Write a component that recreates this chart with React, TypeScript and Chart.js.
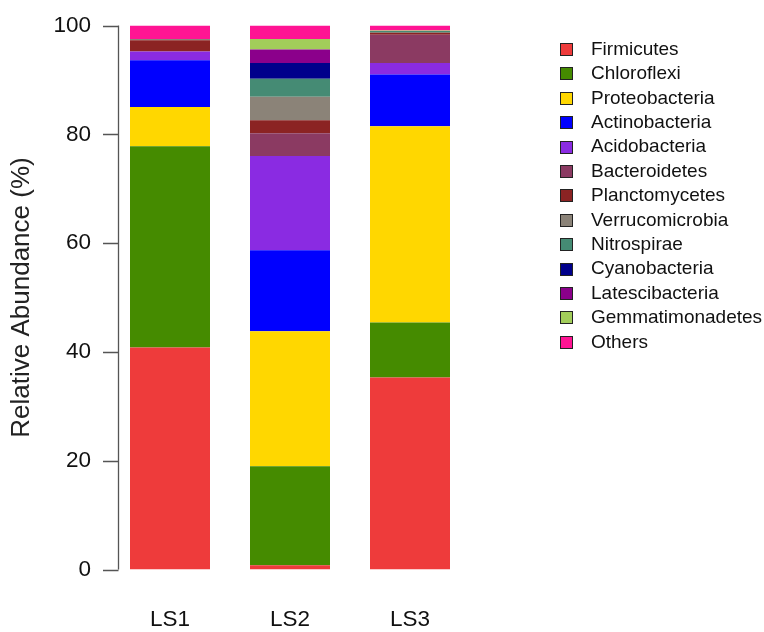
import React, { useEffect, useRef } from "react";
import { Chart, registerables } from "chart.js";

Chart.register(...registerables);

const samples = ["LS1", "LS2", "LS3"];
const yTicks = [0, 20, 40, 60, 80, 100];

const firmicutes = [40.8, 0.8, 35.3];
const chloroflexi = [37.0, 18.2, 10.1];
const proteobacteria = [7.2, 24.8, 36.1];
const actinobacteria = [8.6, 14.9, 9.5];
const acidobacteria = [1.6, 17.3, 2.1];
const bacteroidetes = [0, 4.2, 5.2];
const planctomycetes = [2.1, 2.4, 0.3];
const verrucomicrobia = [0.2, 4.3, 0.2];
const nitrospirae = [0, 3.3, 0.2];
const cyanobacteria = [0, 2.9, 0];
const latescibacteria = [0, 2.5, 0];
const gemmatimonadetes = [0, 1.9, 0.1];
const others = [2.5, 2.5, 0.9];

const phylumNames = [
  "Firmicutes", "Chloroflexi", "Proteobacteria", "Actinobacteria", "Acidobacteria",
  "Bacteroidetes", "Planctomycetes", "Verrucomicrobia", "Nitrospirae", "Cyanobacteria",
  "Latescibacteria", "Gemmatimonadetes", "Others",
];
const phylumValues = [
  firmicutes, chloroflexi, proteobacteria, actinobacteria, acidobacteria,
  bacteroidetes, planctomycetes, verrucomicrobia, nitrospirae, cyanobacteria,
  latescibacteria, gemmatimonadetes, others,
];
const phylumColors = [
  "#EE3B3B", "#458B00", "#FFD700", "#0000FF", "#8A2BE2",
  "#8B3A62", "#8B2323", "#8B8378", "#458B74", "#00008B",
  "#8B008B", "#A2CD5A", "#FF1493",
];

const FONT = "'Liberation Sans', Arial, sans-serif";
const TEXT = "#111";

const rAxisPlugin = {
  id: "rAxis",
  afterDraw(chart: any) {
    const { ctx, chartArea, scales } = chart;
    const y = scales.y;
    const ax = chartArea.left + 8.5;
    ctx.save();
    ctx.strokeStyle = "#555";
    ctx.lineWidth = 1.3;
    ctx.beginPath();
    ctx.moveTo(ax, y.getPixelForValue(0));
    ctx.lineTo(ax, y.getPixelForValue(100));
    for (const t of yTicks) {
      const py = Math.round(y.getPixelForValue(t)) + 0.5;
      ctx.moveTo(ax - 15.5, py);
      ctx.lineTo(ax, py);
    }
    ctx.stroke();
    ctx.restore();
  },
};

const legendPlugin = {
  id: "rLegend",
  afterDraw(chart: any) {
    const { ctx } = chart;
    const boxX = 560;
    const textX = 591;
    const top = 49.5;
    const step = 24.4;
    ctx.save();
    ctx.font = `19px ${FONT}`;
    ctx.textBaseline = "middle";
    ctx.textAlign = "left";
    phylumNames.forEach((name, i) => {
      const cy = top + i * step;
      ctx.fillStyle = phylumColors[i];
      ctx.fillRect(boxX, Math.round(cy - 6.5), 13, 13);
      ctx.strokeStyle = "#222";
      ctx.lineWidth = 1;
      ctx.strokeRect(boxX + 0.5, Math.round(cy - 6.5) + 0.5, 12, 12);
      ctx.fillStyle = TEXT;
      ctx.fillText(name, textX, cy);
    });
    ctx.restore();
  },
};

export default function App() {
  const ref = useRef<HTMLCanvasElement>(null);

  useEffect(() => {
    document.body.style.margin = "0";
    const canvas = ref.current!;
    const chart = new Chart(canvas, {
      type: "bar",
      data: {
        labels: samples,
        datasets: phylumNames.map((name, i) => ({
          label: name,
          data: phylumValues[i],
          backgroundColor: phylumColors[i],
          borderWidth: 0,
          barPercentage: 80 / 120,
          categoryPercentage: 1,
        })),
      },
      options: {
        responsive: false,
        animation: false,
        devicePixelRatio: 1,
        layout: { padding: { top: 25.5, right: 294, left: 0, bottom: 0 } },
        plugins: {
          legend: { display: false },
          tooltip: { enabled: false },
        },
        scales: {
          x: {
            stacked: true,
            grid: { display: false, drawTicks: false },
            border: { display: false },
            ticks: {
              color: TEXT,
              font: { family: FONT, size: 22.5 },
              padding: 37,
            },
            afterFit(scale: any) {
              scale.height = 62.5;
              scale.paddingLeft = 0;
              scale.paddingRight = 0;
            },
          },
          y: {
            stacked: true,
            min: 0,
            max: 100,
            grid: { display: false, drawTicks: false },
            border: { display: false },
            ticks: {
              stepSize: 20,
              color: TEXT,
              font: { family: FONT, size: 22.5 },
              padding: 19,
            },
            title: {
              display: true,
              text: "Relative Abundance (%)",
              color: "#222",
              font: { family: FONT, size: 26 },
              padding: { top: 6, bottom: 0 },
            },
            afterFit(scale: any) {
              scale.width = 110;
              scale.paddingTop = 0;
              scale.paddingBottom = 0;
            },
          },
        },
      },
      plugins: [rAxisPlugin, legendPlugin],
    });
    return () => chart.destroy();
  }, []);

  return (
    <canvas
      ref={ref}
      width={764}
      height={632}
      style={{ display: "block", width: 764, height: 632 }}
    />
  );
}
